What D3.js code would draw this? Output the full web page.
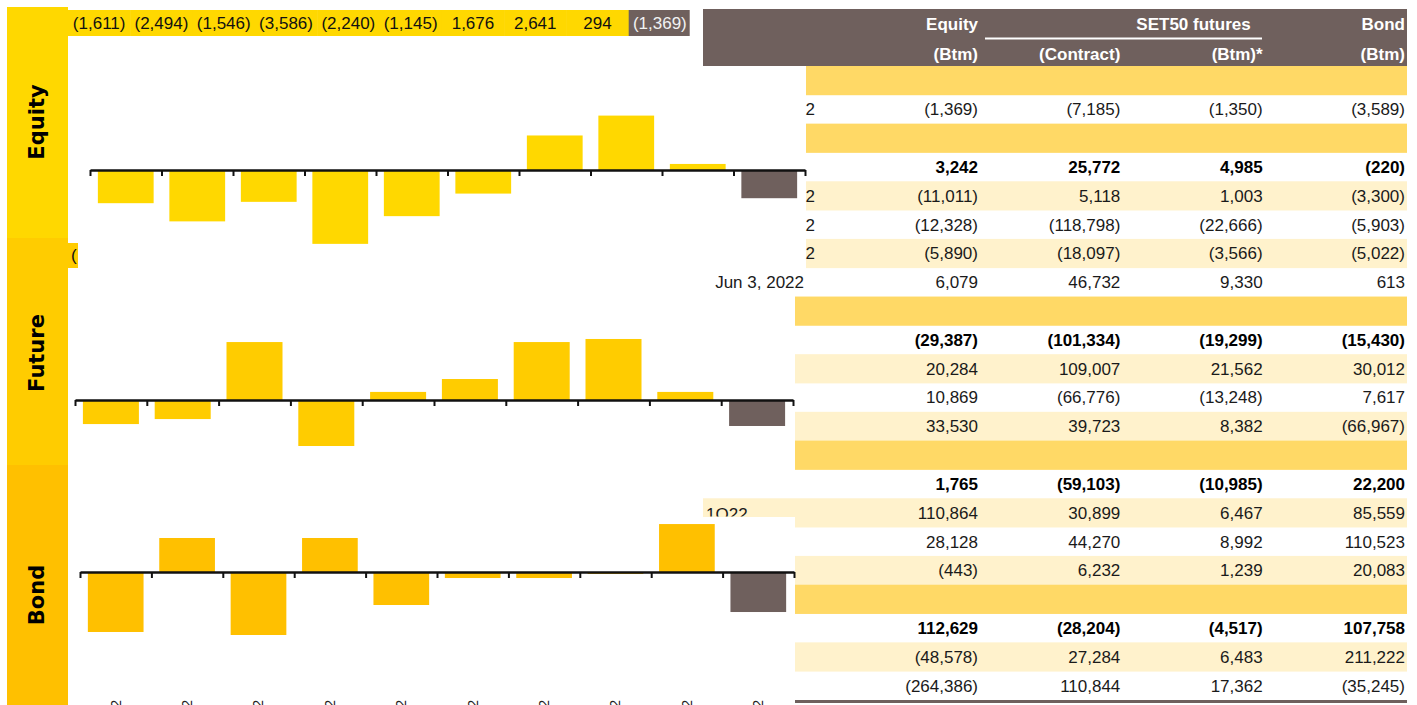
<!DOCTYPE html>
<html>
<head>
<meta charset="utf-8">
<script src="https://cdn.jsdelivr.net/npm/d3@7"></script>
<style>
  html, body { margin: 0; padding: 0; background: #fff; overflow: hidden; }
  svg { display: block; font-family: "Liberation Sans", Arial, sans-serif; }
</style>
</head>
<body>
<svg id="chart" width="1417" height="705"></svg>
<script>
// weekly foreign net flows, last bar = latest week
var weeks = ['25 Mar 22', '1 Apr 22', '8 Apr 22', '22 Apr 22', '29 Apr 22', '6 May 22', '13 May 22', '20 May 22', '27 May 22', '3 Jun 22'];
var equityFlow = [-1611, -2494, -1546, -3586, -2240, -1145, 1676, 2641, 294, -1369];
var futureFlow = [-1250, -990, 3010, -2390, 420, 1090, 3010, 3170, 420, -1350];
var bondFlow = [-5380, 3050, -5650, 3050, -2960, -540, -540, -180, 4300, -3589];

// table
var headerTop = ['Equity', 'SET50 futures', 'Bond'];
var headerUnits = ['(Btm)', '(Contract)', '(Btm)*', '(Btm)'];
var rowKinds = ['section', 'plain', 'section', 'total', 'pale', 'plain', 'pale', 'plain',
                'section', 'total', 'pale', 'plain', 'pale',
                'section', 'total', 'pale', 'plain', 'pale',
                'section', 'total', 'pale', 'plain'];
var rowLabels = ['', 'Week to Jun 3, 2022', '', '', 'May 2022', 'Apr 2022', 'Mar 2022', 'Jun 3, 2022',
                 '', '', '', '', '', '', '', '1Q22', '', '', '', '', '', ''];
var equityCol   = [null, -1369, null, 3242, -11011, -12328, -5890, 6079, null, -29387, 20284, 10869, 33530, null, 1765, 110864, 28128, -443, null, 112629, -48578, -264386];
var contractCol = [null, -7185, null, 25772, 5118, -118798, -18097, 46732, null, -101334, 109007, -66776, 39723, null, -59103, 30899, 44270, 6232, null, -28204, 27284, 110844];
var futureBtmCol = [null, -1350, null, 4985, 1003, -22666, -3566, 9330, null, -19299, 21562, -13248, 8382, null, -10985, 6467, 8992, 1239, null, -4517, 6483, 17362];
var bondCol     = [null, -3589, null, -220, -3300, -5903, -5022, 613, null, -15430, 30012, 7617, -66967, null, 22200, 85559, 110523, 20083, null, 107758, 211222, -35245];

var grey = '#6f605d';
var svg = d3.select('#chart');
var fmt = d3.format(',');
function acct(v) { return v < 0 ? '(' + fmt(-v) + ')' : fmt(v); }

var defs = svg.append('defs');
defs.append('clipPath').attr('id', 'labelCut').append('rect')
    .attr('x', 805.5).attr('y', 60).attr('width', 40).attr('height', 240);
defs.append('clipPath').attr('id', 'qCut').append('rect')
    .attr('x', 700).attr('y', 495).attr('width', 100).attr('height', 21.5);

// ---- table ----
var rowY = d3.scaleBand().domain(d3.range(rowKinds.length)).range([66, 700]);
var colX = d3.scalePoint().domain(d3.range(4)).range([978, 1405]);
var columns = [equityCol, contractCol, futureBtmCol, bondCol];

var table = svg.append('g').attr('class', 'table');

table.append('rect')
    .attr('x', 703).attr('y', 9).attr('width', 704).attr('height', 57)
    .attr('fill', grey);

var head = table.append('g')
    .attr('fill', '#fff').attr('font-weight', 'bold').attr('font-size', 17);
head.append('text').attr('x', colX(0)).attr('y', 30).attr('text-anchor', 'end').text(headerTop[0]);
head.append('text').attr('x', (colX(1) + colX(2)) / 2 + 2).attr('y', 30).attr('text-anchor', 'middle').text(headerTop[1]);
head.append('text').attr('x', colX(3)).attr('y', 30).attr('text-anchor', 'end').text(headerTop[2]);
head.append('line')
    .attr('x1', 985).attr('x2', 1262).attr('y1', 38.5).attr('y2', 38.5)
    .attr('stroke', '#fff').attr('stroke-width', 2);
head.selectAll('text.unit').data(headerUnits).join('text')
    .attr('class', 'unit')
    .attr('x', function (d, i) { return colX(i); })
    .attr('y', 60)
    .attr('text-anchor', 'end')
    .text(function (d) { return d; });

// row backgrounds
rowKinds.forEach(function (kind, i) {
    if (kind !== 'section' && kind !== 'pale') return;
    var left = i < 8 ? 806 : 795;
    table.append('rect')
        .attr('x', left).attr('y', rowY(i))
        .attr('width', 1407 - left).attr('height', rowY.bandwidth() + 0.4)
        .attr('fill', kind === 'section' ? '#ffd966' : '#fff2cc');
});

// values
columns.forEach(function (col, c) {
    var cells = col.map(function (v, i) { return {v: v, row: i}; })
        .filter(function (d) { return d.v !== null; });
    table.append('g')
        .selectAll('text').data(cells).join('text')
        .attr('x', colX(c))
        .attr('y', function (d) { return rowY(d.row) + rowY.bandwidth() / 2 + 6; })
        .attr('text-anchor', 'end')
        .attr('font-size', 17)
        .attr('font-weight', function (d) { return rowKinds[d.row] === 'total' ? 'bold' : 'normal'; })
        .attr('fill', function (d) { return rowKinds[d.row] === 'total' ? '#000' : '#1a1a1a'; })
        .text(function (d) { return acct(d.v); });
});

// row labels (mostly hidden behind the charts)
rowLabels.forEach(function (lab, i) {
    if (!lab) return;
    var yy = rowY(i) + rowY.bandwidth() / 2 + 6;
    if (i < 7) {
        table.append('text').attr('clip-path', 'url(#labelCut)')
            .attr('x', 815).attr('y', yy).attr('text-anchor', 'end')
            .attr('font-size', 17).attr('fill', '#1a1a1a').text(lab);
    } else if (i === 7) {
        table.append('text')
            .attr('x', 804).attr('y', yy).attr('text-anchor', 'end')
            .attr('font-size', 17).attr('fill', '#1a1a1a').text(lab);
    } else {
        table.append('rect')
            .attr('x', 703).attr('y', rowY(i)).attr('width', 92).attr('height', 517 - rowY(i))
            .attr('fill', '#fff2cc');
        table.append('text').attr('clip-path', 'url(#qCut)')
            .attr('x', 706).attr('y', yy + 1)
            .attr('font-size', 17).attr('fill', '#1a1a1a').text(lab);
    }
});

table.append('rect')
    .attr('x', 795).attr('y', 700).attr('width', 612).attr('height', 3)
    .attr('fill', grey);

// ---- side strips ----
var strips = [
    {name: 'Equity', y0: 7, y1: 238, mid: 122, color: '#ffd800'},
    {name: 'Future', y0: 238, y1: 465, mid: 353, color: '#ffcc00'},
    {name: 'Bond', y0: 465, y1: 705, mid: 595, color: '#ffc000'}
];
strips.forEach(function (s) {
    svg.append('rect')
        .attr('x', 7).attr('y', s.y0).attr('width', 61).attr('height', s.y1 - s.y0)
        .attr('fill', s.color);
    svg.append('text')
        .attr('transform', 'translate(37,' + s.mid + ') rotate(-90)')
        .attr('text-anchor', 'middle').attr('dy', '0.35em')
        .attr('font-family', '"DejaVu Sans", Verdana, sans-serif')
        .attr('font-weight', 'bold').attr('font-size', 21)
        .attr('fill', '#000')
        .text(s.name);
});

// equity value band along the top
var bandX = d3.scaleBand().domain(weeks).range([68, 691]);
svg.append('g').selectAll('rect').data(weeks).join('rect')
    .attr('x', function (d) { return bandX(d); })
    .attr('y', 10)
    .attr('width', function (d, i) { return i === weeks.length - 1 ? 61 : bandX.step() + 0.5; })
    .attr('height', 26)
    .attr('fill', function (d, i) { return i === weeks.length - 1 ? grey : '#ffd800'; });
svg.append('g').selectAll('text').data(equityFlow).join('text')
    .attr('x', function (d, i) { return bandX(weeks[i]) + bandX.bandwidth() / 2; })
    .attr('y', 29)
    .attr('text-anchor', 'middle')
    .attr('font-size', 17)
    .attr('fill', function (d, i) { return i === weeks.length - 1 ? '#f2f2f2' : '#111'; })
    .text(acct);

// cut-off future value band
svg.append('rect').attr('x', 68).attr('y', 243).attr('width', 10).attr('height', 25).attr('fill', '#ffcc00');
svg.append('text').attr('x', 71).attr('y', 261).attr('font-size', 17).attr('fill', '#111').text('(');

// ---- bar panels ----
function drawPanel(values, color, xRange, domain, yRange) {
    var x = d3.scaleBand().domain(weeks).range(xRange).paddingInner(0.22).paddingOuter(0.11);
    var edge = d3.scaleLinear().domain([0, weeks.length]).range(xRange);
    var y = d3.scaleLinear().domain(domain).range(yRange);
    var g = svg.append('g');

    g.selectAll('rect').data(values).join('rect')
        .attr('x', function (d, i) { return x(weeks[i]); })
        .attr('width', x.bandwidth())
        .attr('y', function (d) { return y(Math.max(0, d)); })
        .attr('height', function (d) { return Math.abs(y(d) - y(0)); })
        .attr('fill', function (d, i) { return i === values.length - 1 ? grey : color; });

    var axis = d3.axisBottom(edge)
        .tickValues(d3.range(weeks.length + 1))
        .tickFormat('')
        .tickSizeInner(6)
        .tickSizeOuter(0);

    g.append('g')
        .attr('transform', 'translate(0,' + y(0) + ')')
        .call(axis)
        .call(function (a) {
            a.select('.domain').attr('stroke', '#111').attr('stroke-width', 2.5);
            a.selectAll('.tick line').attr('stroke', '#111').attr('stroke-width', 2);
        });
    return x;
}

drawPanel(futureFlow, '#ffcc00', [75, 793], [-4000, 4000], [477, 323]);
var bondX = drawPanel(bondFlow, '#ffc000', [80, 794], [-6000, 6000], [638.9, 505.1]);
drawPanel(equityFlow, '#ffd800', [90, 805], [-4000, 4000], [252.4, 87.6]);

// week labels, mostly below the visible area
svg.append('g').selectAll('text').data(weeks).join('text')
    .attr('transform', function (d) {
        return 'translate(' + (bondX(d) + bondX.bandwidth() / 2) + ',700) rotate(-90)';
    })
    .attr('text-anchor', 'end')
    .attr('dy', '0.35em')
    .attr('font-size', 14)
    .attr('fill', '#222')
    .text(function (d) { return d; });
</script>
</body>
</html>
